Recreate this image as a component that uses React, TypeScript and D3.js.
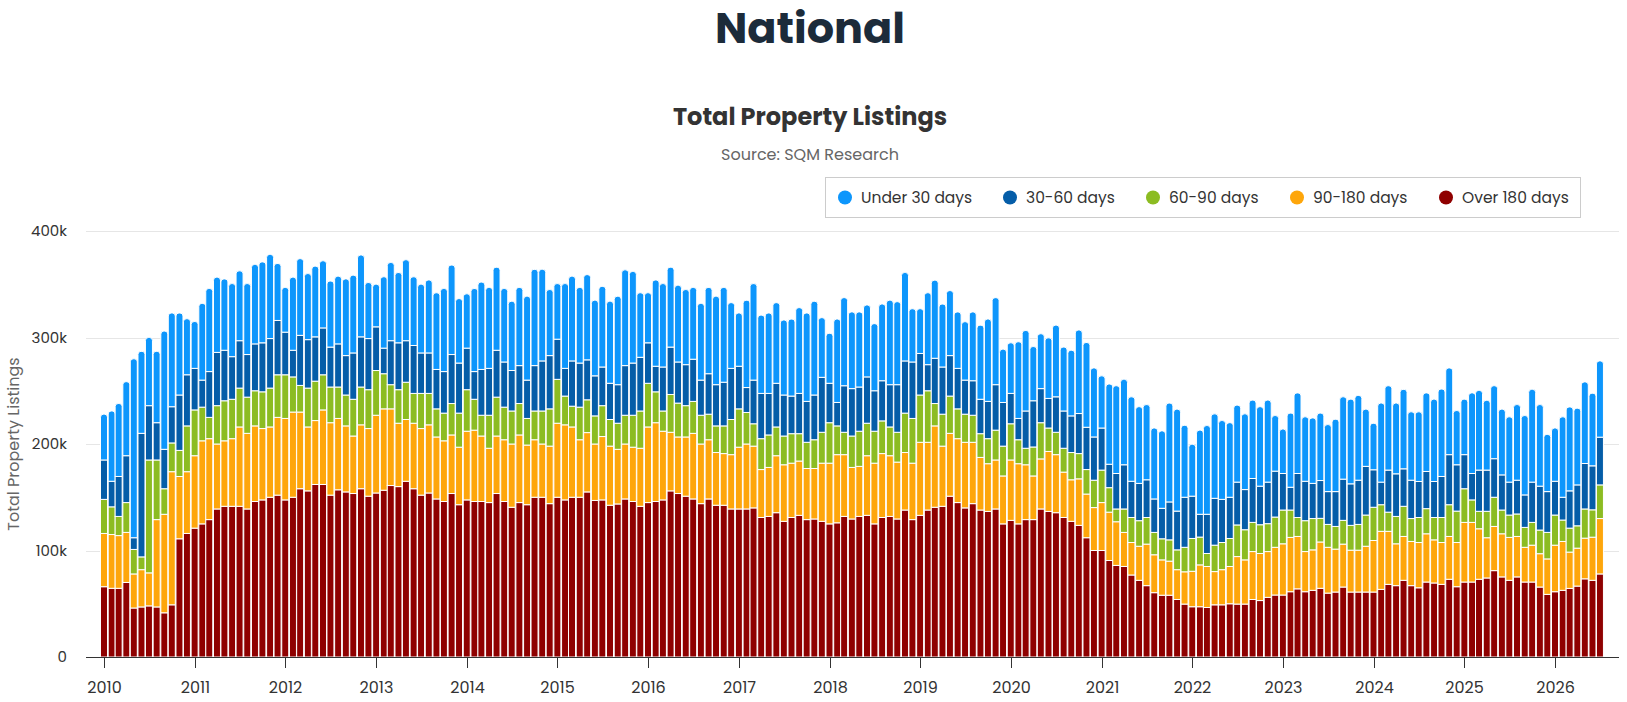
import React, { useEffect, useRef } from 'react';
import * as d3 from 'd3';

// monthly listings, thousands, Jan 2010 .. Jul 2026
const over180 = [
  66, 64.5, 64.5, 70, 46, 47, 48, 47, 41.5, 49,
  111, 116, 121, 125, 129, 139, 141.5, 141.5, 141.5, 139,
  146, 147.5, 150, 152, 147.5, 150, 158, 156, 162, 162,
  152, 157, 155, 153.5, 158, 151, 154, 156.6, 161, 160,
  165, 158, 152, 154, 148.4, 146, 153.5, 143, 147.5, 146,
  146, 145, 153.5, 146, 140.6, 145, 143, 150, 150, 144,
  150, 147.5, 150, 150, 155, 147, 147.5, 142.5, 143.7, 148.4,
  146, 141.5, 145, 146, 147.5, 156, 153.5, 151, 148.4, 144,
  148.4, 142.5, 142.5, 139, 139, 139, 140, 131, 132, 135.5,
  127.4, 131, 133, 129, 129.6, 127.4, 125, 126, 132, 129.6,
  132, 133, 125, 131, 132, 129.6, 138, 129, 133, 138,
  140.6, 141.5, 151, 145, 140, 144, 138, 136.7, 139, 125,
  128.3, 125, 129, 129, 139, 136.7, 135.5, 131, 127.4, 123.6,
  112, 100, 100, 90.6, 86, 85, 77, 72, 67, 60.4,
  58, 58, 54, 49.7, 47.2, 47.2, 46.5, 49, 49, 50,
  49.7, 49.7, 54, 53, 56, 58.2, 58.2, 61.3, 64, 61.3,
  62.6, 64.5, 60, 61, 65.7, 61, 61, 61, 61, 63.5,
  68.2, 67, 72, 67, 65, 70.4, 69.5, 68.2, 73, 66,
  70.4, 70.4, 73, 74.2, 81.1, 75.2, 72, 75.2, 70.4, 70.4,
  65.7, 58.8, 61.3, 62.6, 64.4, 66.6, 73.4, 72, 78,
];

const days90to180 = [
  50, 50.5, 49.5, 47, 32, 35, 31, 82, 92.5, 125,
  58.5, 58, 68, 78, 76, 61, 61.5, 63.5, 74.5, 71,
  71, 67, 66, 73, 76.5, 80, 72, 60, 60, 70,
  68, 67, 62, 54, 60, 63.5, 73, 76.4, 72, 59.5,
  58, 61.5, 62.5, 64, 58.2, 57, 55, 54, 64.5, 67,
  61.5, 51, 54, 58, 59.4, 63.5, 56, 54, 50, 54,
  69.5, 70.5, 66, 54, 55.7, 53, 59.5, 55.5, 51.3, 51.6,
  51, 54.5, 71, 74, 64.5, 55, 53.1, 55.6, 61.6, 56,
  55.6, 49.5, 48.5, 51, 58, 61, 58, 45, 46, 53.5,
  53.1, 51, 51, 48, 47.4, 54.6, 57, 64, 58, 48.4,
  47, 56, 57, 60, 57, 53.4, 54, 53, 68.6, 63.6,
  76.4, 56.5, 59, 60, 61.6, 57.6, 49.4, 44.8, 46, 45,
  56.7, 56.5, 51.5, 41, 47, 56.3, 54.5, 42.6, 39, 43.7,
  41, 40.3, 45, 45.4, 41, 32, 30.5, 32, 39, 35.6,
  33.2, 32, 28, 30.3, 33.3, 39.3, 38.5, 31.2, 33, 35,
  44.6, 41.5, 45, 44.2, 43, 44.8, 48.1, 51, 49.2, 37.7,
  38, 43.5, 43, 40.3, 40.3, 39.3, 39.3, 43, 48.4, 54.5,
  49.8, 39.3, 41.2, 41.5, 42.5, 45.3, 40.5, 39.3, 40.2, 41.5,
  56, 56, 47.4, 37.8, 41.5, 40.5, 40.3, 38, 32.6, 34.6,
  31.3, 33.3, 43.7, 45.9, 34.1, 35.6, 38.2, 40.5, 52,
];

const days60to90 = [
  32, 26, 18, 28, 23, 12, 106, 56, 24, 27,
  24.5, 43, 43, 31.6, 20, 36, 37.6, 37, 36.5, 34,
  33, 34.5, 36.5, 40, 41, 33, 25, 36.5, 37, 33,
  33.5, 29.5, 29, 34.5, 35.5, 36.5, 42, 33, 22.7, 31.5,
  35, 28, 33, 29.5, 26.4, 26, 29.5, 32, 39, 29,
  19.5, 31, 36.5, 30.6, 31, 29.5, 25, 27, 31, 35,
  41.2, 27, 19.5, 30.6, 30.8, 26.4, 29, 25, 24.5, 27,
  30, 35, 41, 29, 19, 35.5, 31.8, 29.4, 30, 27,
  24, 25, 26, 33, 36, 29.6, 21, 29, 30.5, 27,
  27, 27.7, 25.7, 24.6, 27, 29, 38, 27, 21, 29.5,
  33, 30.5, 30, 30.7, 27, 28, 37, 42, 44.4, 48.4,
  21, 30, 35, 28, 26.4, 25.4, 22.3, 23.5, 28, 28,
  34, 22.5, 15.5, 27.2, 34, 22, 21, 22.4, 25.6, 23.7,
  23, 25.7, 30.5, 23, 12, 22, 23.5, 24, 25, 21,
  19.8, 20, 18.6, 23, 30.8, 26.1, 12.2, 24.8, 25.5, 26.3,
  29.7, 28.3, 27.4, 27, 26.2, 28.4, 31.7, 25.7, 17.8, 29,
  29.4, 22.2, 21.5, 21.3, 22.3, 23.3, 24.2, 29.3, 31.2, 25,
  18, 25.7, 28.3, 21.5, 23.5, 23.6, 21, 23.5, 29.8, 29.5,
  31.6, 21.1, 16.4, 24.8, 27.4, 22.3, 21, 21.1, 18.7, 21.4,
  22.2, 24.9, 28.3, 20.1, 22.5, 21, 27.4, 25.7, 31.6,
];

const days30to60 = [
  37, 24, 37.5, 44, 11, 116, 51, 35, 37, 34,
  52, 48, 39, 25.4, 43, 50, 47.4, 40, 44.5, 40,
  44, 46, 46.5, 51, 40, 25, 47, 45.5, 41.6, 44,
  37.5, 40.5, 37, 43.5, 47.1, 48, 41, 24, 41.3, 44,
  39, 45, 38, 38, 37, 39, 46, 47, 39, 26,
  43, 44, 44, 42.4, 38, 35.6, 36, 42.6, 47, 50,
  37.7, 26, 42.5, 41.4, 37.5, 37.6, 36.3, 34, 36.2, 46.6,
  49, 50.4, 38, 24, 41.3, 44.5, 38.6, 38.5, 39.6, 33,
  38, 38.7, 41, 48, 40, 23.4, 41, 42.5, 39, 41,
  38.5, 35.3, 37.8, 38.4, 42, 51.6, 37, 22, 43.7, 44.5,
  41.5, 43.5, 38, 37.7, 39.7, 44.7, 49, 53, 39, 24.5,
  42.5, 44.3, 38, 38, 32, 32.4, 32.3, 35, 42.7, 41,
  28.5, 20, 35, 43.4, 32, 27.8, 33.3, 35, 34.4, 37.6,
  39.7, 40.6, 39.5, 22, 33.3, 41.5, 34, 35, 35.4, 31.4,
  28.6, 35.6, 36.4, 47, 39.7, 21.4, 36.8, 44, 40.5, 38.7,
  40.2, 37.7, 41.2, 36.2, 39, 43.1, 34.3, 21.4, 41.3, 37,
  33, 35.5, 30.8, 32.7, 38.7, 39, 41.5, 45.7, 35.2, 21.2,
  39.5, 40, 35.2, 36, 33.8, 34.9, 33.8, 38.5, 47, 43.5,
  32, 24.8, 38.7, 38.7, 36.2, 33, 30.9, 31.7, 30.5, 37.8,
  41.2, 38.3, 31.7, 21.4, 35, 38.4, 42.7, 41.3, 44.8,
];

const under30 = [
  43, 66, 68.5, 69.5, 168, 77, 64, 67, 111, 88,
  77, 52.6, 44, 72, 78, 70.6, 67, 68.6, 65.6, 66.6,
  74.6, 76, 79, 53.5, 42, 68.6, 72, 62, 66.4, 63,
  62, 63.5, 72, 73, 76.8, 52.6, 40, 67, 73.4, 66,
  76, 64.5, 64.5, 68.5, 72, 78, 84, 60.5, 51, 78,
  82, 76, 78, 69, 65, 73.4, 78.7, 90.4, 86, 62,
  52.2, 79.6, 79.5, 71, 80, 71, 75.7, 77, 83, 89.9,
  86, 60.6, 47, 81, 78.3, 75, 72, 70.5, 67.4, 72,
  81, 83, 89, 61.7, 50, 82, 90.6, 73.5, 75.5, 75.7,
  70.4, 72.3, 80.5, 83, 88, 56, 47, 78.3, 82.7, 72,
  70.5, 67.5, 63, 72, 79.3, 77.9, 83, 50, 42, 67.5,
  73.3, 59.1, 61, 53, 54.8, 64.6, 69.6, 77.3, 81.7, 50,
  47.5, 72, 75.6, 50.9, 51.5, 56.9, 67.3, 60, 61.6, 78.4,
  79.6, 64.8, 49, 75.3, 82.4, 80.2, 79.3, 72, 70.6, 66.6,
  72.7, 92.8, 95.7, 67.6, 48.7, 79, 83.3, 79.3, 74, 70,
  72.3, 71.1, 73.6, 74.6, 77, 52.2, 41.7, 69.6, 75.7, 60.5,
  61.5, 63.3, 62.9, 68, 77.3, 79.5, 79.6, 53.7, 43.7, 74.2,
  79.2, 66.4, 74.6, 64.2, 65.4, 73.8, 77.3, 82.1, 81.4, 50.9,
  52.1, 75.7, 74.8, 65.5, 68.5, 61.7, 61.3, 71, 74.5, 87.1,
  76.6, 53.7, 50, 75.5, 78.8, 72, 76.6, 68.2, 71.6,
];

const firstMonth = new Date(2010, 0, 1);
const yearTicks = [2010, 2011, 2012, 2013, 2014, 2015, 2016, 2017, 2018, 2019, 2020, 2021, 2022, 2023, 2024, 2025, 2026];
const valueTicks = [0, 100, 200, 300, 400];

// stacked bottom -> top
const seriesList = [
  { name: 'Over 180 days', values: over180, color: '#8f0000' },
  { name: '90-180 days', values: days90to180, color: '#fea60b' },
  { name: '60-90 days', values: days60to90, color: '#8cbc22' },
  { name: '30-60 days', values: days30to60, color: '#055da8' },
  { name: 'Under 30 days', values: under30, color: '#0d96fc' },
];
const legendOrder = [4, 3, 2, 1, 0];

const FONT = "Poppins, Inter, 'Open Sans', sans-serif";

function roundedTop(x: number, y: number, w: number, h: number, r: number) {
  const rr = Math.max(0, Math.min(r, h, w / 2));
  return `M${x},${y + h}V${y + rr}Q${x},${y} ${x + rr},${y}H${x + w - rr}Q${x + w},${y} ${x + w},${y + rr}V${y + h}Z`;
}

const ListingsChart: React.FC<{ width?: number; height?: number }> = ({ width = 1627, height = 702 }) => {
  const svgRef = useRef<SVGSVGElement>(null);

  useEffect(() => {
    if (!svgRef.current) return;
    const svg = d3.select(svgRef.current);
    svg.selectAll('*').remove();

    const plot = { left: 86, right: 1619, top: 231, bottom: 657 };
    const cx = 810;

    const x = d3.scaleTime()
      .domain([new Date(2010, 0, 1), new Date(2026, 0, 1)])
      .range([104, 1555]);
    const y = d3.scaleLinear().domain([0, 400]).range([plot.bottom, plot.top]);

    // titles
    svg.append('text')
      .attr('x', cx).attr('y', 43)
      .attr('text-anchor', 'middle')
      .style('font-family', FONT).style('font-size', '43px').style('font-weight', 700)
      .style('fill', '#1c2b3a')
      .text('National');
    svg.append('text')
      .attr('x', cx).attr('y', 125)
      .attr('text-anchor', 'middle')
      .style('font-family', FONT).style('font-size', '24px').style('font-weight', 700)
      .style('fill', '#333333')
      .text('Total Property Listings');
    svg.append('text')
      .attr('x', cx).attr('y', 160)
      .attr('text-anchor', 'middle')
      .style('font-family', FONT).style('font-size', '16px')
      .style('fill', '#666666')
      .text('Source: SQM Research');

    // legend
    const legend = svg.append('g');
    legend.append('rect')
      .attr('x', 825.5).attr('y', 177.5).attr('width', 755).attr('height', 40)
      .attr('fill', '#ffffff').attr('stroke', '#cccccc').attr('stroke-width', 1);
    const legendX = [845, 1010, 1153, 1297, 1446];
    legendOrder.forEach((si, i) => {
      const s = seriesList[si];
      legend.append('circle')
        .attr('cx', legendX[i]).attr('cy', 197.5).attr('r', 7)
        .attr('fill', s.color);
      legend.append('text')
        .attr('x', legendX[i] + 16).attr('y', 203)
        .style('font-family', FONT).style('font-size', '15.5px')
        .style('fill', '#333333')
        .text(s.name);
    });

    // grid
    const g = svg.append('g');
    g.selectAll('line.grid')
      .data(valueTicks)
      .enter()
      .append('line')
      .attr('x1', plot.left).attr('x2', plot.right)
      .attr('y1', d => Math.round(y(d)) + 0.5).attr('y2', d => Math.round(y(d)) + 0.5)
      .attr('stroke', '#e6e6e6').attr('stroke-width', 1);

    g.selectAll('text.ylab')
      .data(valueTicks)
      .enter()
      .append('text')
      .attr('x', 67).attr('y', d => y(d) + 5)
      .attr('text-anchor', 'end')
      .style('font-family', FONT).style('font-size', '15px')
      .style('fill', '#333333')
      .text(d => (d === 0 ? '0' : `${d}k`));

    svg.append('text')
      .attr('transform', `translate(19,${(plot.top + plot.bottom) / 2}) rotate(-90)`)
      .attr('text-anchor', 'middle')
      .style('font-family', FONT).style('font-size', '16px')
      .style('fill', '#666666')
      .text('Total Property Listings');

    // bars
    const bw = 7.0;
    const bars = svg.append('g');
    over180.forEach((_, i) => {
      const cxm = x(d3.timeMonth.offset(firstMonth, i));
      let base = 0;
      seriesList.forEach((s, si) => {
        const v = s.values[i];
        const y0 = y(base);
        const y1 = y(base + v);
        base += v;
        if (si === seriesList.length - 1) {
          bars.append('path')
            .attr('d', roundedTop(cxm - bw / 2, y1, bw, y0 - y1, 3))
            .attr('fill', s.color)
            .attr('stroke', '#ffffff').attr('stroke-width', 1);
        } else {
          bars.append('rect')
            .attr('x', cxm - bw / 2).attr('y', y1)
            .attr('width', bw).attr('height', Math.max(0, y0 - y1))
            .attr('fill', s.color)
            .attr('stroke', '#ffffff').attr('stroke-width', 1);
        }
      });
    });

    // x axis
    const ax = svg.append('g');
    ax.append('line')
      .attr('x1', plot.left).attr('x2', plot.right)
      .attr('y1', plot.bottom + 0.5).attr('y2', plot.bottom + 0.5)
      .attr('stroke', '#333333').attr('stroke-width', 1);
    yearTicks.forEach(yr => {
      const tx = Math.round(x(new Date(yr, 0, 1))) + 0.5;
      ax.append('line')
        .attr('x1', tx).attr('x2', tx)
        .attr('y1', plot.bottom).attr('y2', plot.bottom + 11)
        .attr('stroke', '#333333').attr('stroke-width', 1);
      ax.append('text')
        .attr('x', tx).attr('y', 693)
        .attr('text-anchor', 'middle')
        .style('font-family', FONT).style('font-size', '16px')
        .style('fill', '#333333')
        .text(String(yr));
    });
  }, [width, height]);

  return (
    <svg ref={svgRef} width={width} height={height} style={{ display: 'block', background: '#ffffff' }} />
  );
};

export default function App() {
  return (
    <div style={{ position: 'absolute', left: 0, top: 0 }}>
      <ListingsChart />
    </div>
  );
}
